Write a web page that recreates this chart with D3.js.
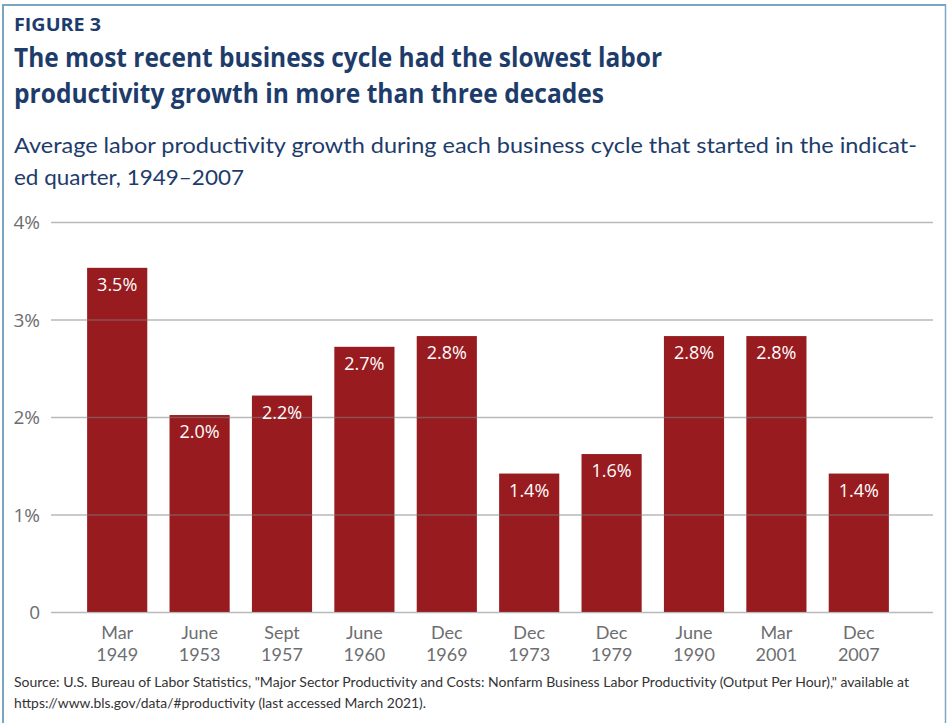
<!DOCTYPE html>
<html>
<head>
<meta charset="utf-8">
<script src="https://cdn.jsdelivr.net/npm/d3@7"></script>
<style>
  html, body { margin: 0; padding: 0; background: #fff; }
  svg { display: block; }
</style>
</head>
<body>
<svg id="chart" width="947" height="723"></svg>
<script>
const months = ["Mar", "June", "Sept", "June", "Dec", "Dec", "Dec", "June", "Mar", "Dec"];
const years = ["1949", "1953", "1957", "1960", "1969", "1973", "1979", "1990", "2001", "2007"];
const growth = [3.53, 2.02, 2.22, 2.72, 2.83, 1.42, 1.62, 2.83, 2.83, 1.42];
const valueLabels = ["3.5%", "2.0%", "2.2%", "2.7%", "2.8%", "1.4%", "1.6%", "2.8%", "2.8%", "1.4%"];
const yTicks = [0, 1, 2, 3, 4];
const yTickLabels = ["0", "1%", "2%", "3%", "4%"];

const svg = d3.select("#chart");
const navy = "#1d3c6b";
const font = "'Open Sans', 'Noto Sans', sans-serif";
const narrow = "Lato, 'Open Sans', sans-serif";

// frame
svg.append("line").attr("x1", 2).attr("x2", 946).attr("y1", 5).attr("y2", 5)
  .attr("stroke", "#7ba6c1").attr("stroke-width", 2);
svg.append("line").attr("x1", 3).attr("x2", 3).attr("y1", 4).attr("y2", 723)
  .attr("stroke", "#7ba6c1").attr("stroke-width", 2);
svg.append("line").attr("x1", 945.5).attr("x2", 945.5).attr("y1", 4).attr("y2", 723)
  .attr("stroke", "#7ba6c1").attr("stroke-width", 1.5);

// titles
svg.append("text").attr("x", 14).attr("y", 31).text("FIGURE 3")
  .attr("font-family", font).attr("font-weight", 700).attr("font-size", 17)
  .attr("fill", navy).attr("textLength", 87).attr("lengthAdjust", "spacingAndGlyphs");
svg.append("text").attr("x", 14).attr("y", 67)
  .text("The most recent business cycle had the slowest labor")
  .attr("font-family", font).attr("font-weight", 700).attr("font-size", 26)
  .attr("fill", navy).attr("textLength", 648).attr("lengthAdjust", "spacingAndGlyphs");
svg.append("text").attr("x", 14).attr("y", 103)
  .text("productivity growth in more than three decades")
  .attr("font-family", font).attr("font-weight", 700).attr("font-size", 26)
  .attr("fill", navy).attr("textLength", 590).attr("lengthAdjust", "spacingAndGlyphs");
svg.append("text").attr("x", 14).attr("y", 153)
  .text("Average labor productivity growth during each business cycle that started in the indicat-")
  .attr("font-family", narrow).attr("font-size", 22)
  .attr("fill", navy).attr("textLength", 903).attr("lengthAdjust", "spacingAndGlyphs");
svg.append("text").attr("x", 14).attr("y", 185)
  .text("ed quarter, 1949\u20132007")
  .attr("font-family", narrow).attr("font-size", 22)
  .attr("fill", navy).attr("textLength", 230).attr("lengthAdjust", "spacingAndGlyphs");

// scales
const x = d3.scaleBand().domain(d3.range(months.length))
  .range([76, 900]).paddingInner(0.27).paddingOuter(0.135);
const y = d3.scaleLinear().domain([0, 4]).range([612, 222]);

// bars
svg.append("g").selectAll("rect").data(growth).join("rect")
  .attr("x", (d, i) => x(i)).attr("width", x.bandwidth())
  .attr("y", d => y(d)).attr("height", d => y(0) - y(d))
  .attr("fill", "#981b1f");

// gridlines (drawn over bars)
svg.append("g").selectAll("line").data(yTicks).join("line")
  .attr("x1", 51).attr("x2", 933)
  .attr("y1", d => y(d) + 0.5).attr("y2", d => y(d) + 0.5)
  .attr("stroke", "#808080").attr("stroke-opacity", 0.55).attr("stroke-width", 1.5);

// y tick labels
svg.append("g").selectAll("text").data(yTicks).join("text")
  .attr("x", 40).attr("y", d => y(d) + 7)
  .attr("text-anchor", "end")
  .attr("font-family", font).attr("font-size", 19).attr("fill", "#6d6e71")
  .text((d, i) => yTickLabels[i]);

// value labels
svg.append("g").selectAll("text").data(growth).join("text")
  .attr("x", (d, i) => x(i) + x.bandwidth() / 2)
  .attr("y", d => y(d) + 23)
  .attr("text-anchor", "middle")
  .attr("font-family", font).attr("font-size", 18).attr("fill", "#fff")
  .text((d, i) => valueLabels[i]);

// category labels (two lines as separate texts)
svg.append("g").selectAll("text").data(months).join("text")
  .attr("x", (d, i) => x(i) + x.bandwidth() / 2).attr("y", 639)
  .attr("text-anchor", "middle")
  .attr("font-family", narrow).attr("font-size", 18).attr("fill", "#6d6e71")
  .text(d => d);
svg.append("g").selectAll("text").data(years).join("text")
  .attr("x", (d, i) => x(i) + x.bandwidth() / 2).attr("y", 661)
  .attr("text-anchor", "middle")
  .attr("font-family", narrow).attr("font-size", 18).attr("fill", "#6d6e71")
  .text(d => d);

// source
svg.append("text").attr("x", 14).attr("y", 687)
  .text("Source: U.S. Bureau of Labor Statistics, \"Major Sector Productivity and Costs: Nonfarm Business Labor Productivity (Output Per Hour),\" available at")
  .attr("font-family", narrow).attr("font-size", 14).attr("fill", "#333")
  .attr("textLength", 895).attr("lengthAdjust", "spacingAndGlyphs");
svg.append("text").attr("x", 14).attr("y", 708)
  .text("https://www.bls.gov/data/#productivity (last accessed March 2021).")
  .attr("font-family", narrow).attr("font-size", 14).attr("fill", "#333")
  .attr("textLength", 412).attr("lengthAdjust", "spacingAndGlyphs");
</script>
</body>
</html>
